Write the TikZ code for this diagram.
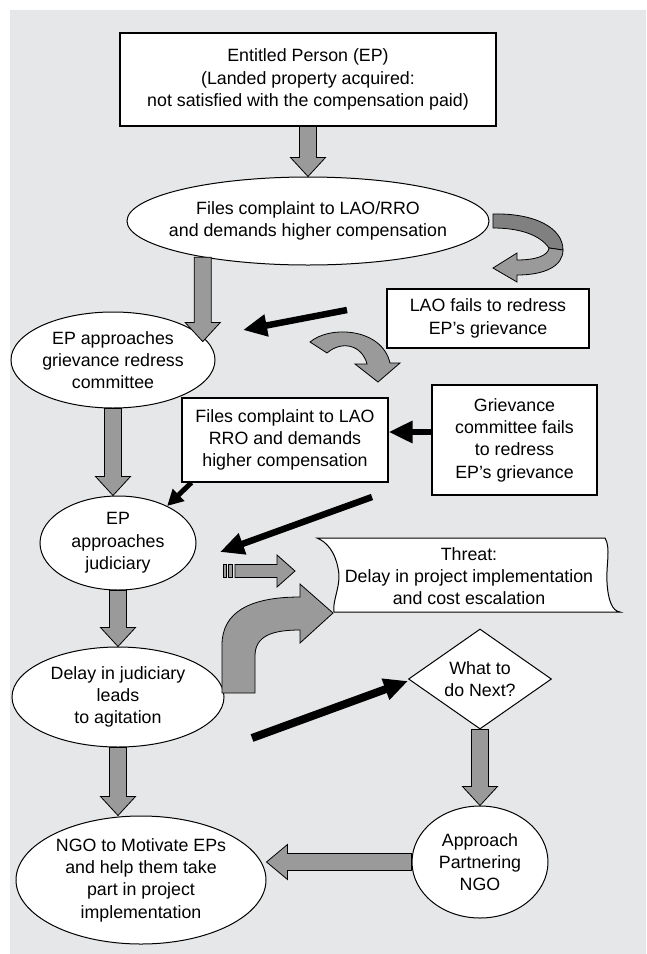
\documentclass[tikz,border=0pt]{standalone}
\usepackage{fontspec}
\setmainfont{Liberation Sans}
\usetikzlibrary{shapes.geometric,arrows.meta,calc}

\definecolor{bggrey}{HTML}{E6E7E8}
\definecolor{arrowgrey}{HTML}{9A9A9A}
\definecolor{ribbongrey}{HTML}{808080}

\tikzset{
  box/.style={draw, fill=white, line width=1.1pt, align=center, inner sep=0pt},
  oval/.style={ellipse, draw, fill=white, line width=1pt, align=center, inner sep=-40pt},
  greyblock/.style={fill=arrowgrey, draw=black, line width=0.8pt},
  blackarrow/.style={line width=6.5pt, -{Triangle[length=24pt,width=21pt]}},
}

% grey block arrows: x (or y) of the start, the other of the tip
\newcommand\greydown[2]{\draw[greyblock] let \p1=#1, \p2=#2 in
  (\x1-8.5pt,\y1) -- (\x1+8.5pt,\y1) -- (\x1+8.5pt,\y2+19pt) -- (\x1+17.5pt,\y2+19pt)
  -- (\x1,\y2) -- (\x1-17.5pt,\y2+19pt) -- (\x1-8.5pt,\y2+19pt) -- cycle;}
\newcommand\greyleft[2]{\draw[greyblock] let \p1=#1, \p2=#2 in
  (\x1,\y1+8.5pt) -- (\x1,\y1-8.5pt) -- (\x2+21pt,\y1-8.5pt) -- (\x2+21pt,\y1-17.5pt)
  -- (\x2,\y1) -- (\x2+21pt,\y1+17.5pt) -- (\x2+21pt,\y1+8.5pt) -- cycle;}
\newcommand\greyright[2]{\draw[greyblock] let \p1=#1, \p2=#2 in
  (\x1,\y1+6.5pt) -- (\x1,\y1-6.5pt) -- (\x2-18pt,\y1-6.5pt) -- (\x2-18pt,\y1-16pt)
  -- (\x2,\y1) -- (\x2-18pt,\y1+16pt) -- (\x2-18pt,\y1+6.5pt) -- cycle;}

\begin{document}
\begin{tikzpicture}[x=1pt, y=-1pt, font=\fontsize{17.8pt}{22.3pt}\selectfont]
\useasboundingbox (0,0) rectangle (646,954);
\fill[bggrey] (10,10) rectangle (646,954);

% nodes
\node[box, minimum width=376pt, minimum height=93pt] (ep) at (308,79.5)
  {Entitled Person (EP)\\(Landed property acquired:\\not satisfied with the compensation paid)};
\node[oval, minimum width=362pt, minimum height=88pt] (files) at (308,221)
  {Files complaint to LAO/RRO\\and demands higher compensation};
\node[box, minimum width=202pt, minimum height=59pt] (laofail) at (488,318.5)
  {LAO fails to redress\\EP's grievance};
\node[oval, minimum width=204pt, minimum height=96pt] (grc) at (113,360)
  {EP approaches\\grievance redress\\committee};
\node[box, minimum width=206pt, minimum height=84pt] (refile) at (285,440)
  {Files complaint to LAO\\RRO and demands\\higher compensation};
\node[box, minimum width=165pt, minimum height=110pt] (grcfail) at (514.5,440)
  {Grievance\\committee fails\\to redress\\EP's grievance};
\node[oval, minimum width=156pt, minimum height=94pt] (jud) at (118,543)
  {EP\\approaches\\judiciary};
\draw[fill=white, line width=1pt] (317,538) -- (605,538)
  .. controls (611,548) and (606,565) .. (607,582)
  .. controls (608,600) and (612,611) .. (620,612) -- (334,612)
  .. controls (332,600) and (342,585) .. (338,568)
  .. controls (335,552) and (327,542) .. (317,538) -- cycle;
\node[align=center, inner sep=0pt] (threat) at (469,576)
  {Threat:\\Delay in project implementation\\and cost escalation};
\node[oval, minimum width=212pt, minimum height=100pt] (agit) at (118,697)
  {Delay in judiciary\\leads\\to agitation};
\node[diamond, draw, fill=white, line width=1pt, align=center, aspect=1.43,
  inner sep=-20pt, minimum width=143pt, minimum height=100pt] (next) at (480,679)
  {What to\\do Next?};
\node[oval, minimum width=136pt, minimum height=112pt] (ngo) at (480,862)
  {Approach\\Partnering\\NGO};
\node[oval, minimum width=250pt, minimum height=128pt] (motiv) at (141,880)
  {NGO to Motivate EPs\\and help them take\\part in project\\implementation};

% grey block arrows
\greydown{(ep.south)}{(files.north)}
\greydown{(files.199)}{(grc.11)}
\greydown{(grc.south)}{(jud.north)}
\greydown{(jud.south)}{(agit.north)}
\greydown{(agit.south)}{(motiv.north)}
\greydown{(next.south)}{(ngo.north)}
\greyleft{(ngo.west)}{(motiv.east)}

% striped arrow to the threat
\coordinate (stail) at (235,571);
\coordinate (stip) at (295,571);
\draw[greyblock] (223,564.5) rectangle (226,577.5);
\draw[greyblock] (228,564.5) rectangle (232,577.5);
\greyright{(stail)}{(stip)}

% curved arrows
\draw[fill=ribbongrey, line width=0.8pt] (493,214) .. controls (535,213) and (563,228) .. (563,250)
  -- (549,248) .. controls (540,235) and (520,228) .. (493,228) -- cycle;
\draw[greyblock] (563,250) .. controls (563,266) and (545,275) .. (517,275) -- (517,282)
  -- (493,268) -- (517,253) -- (517,260) .. controls (535,260) and (548,256) .. (549,248) -- cycle;
\draw[greyblock] (310,342) .. controls (330,325) and (382,328) .. (390,363) -- (400,363)
  -- (378,382) -- (355,364) -- (367,364) .. controls (362,345) and (342,340) .. (327,353) -- cycle;
\draw[greyblock] (222,693) -- (222,645) .. controls (222,612) and (250,597) .. (300,597)
  -- (300,584) -- (333,613) -- (300,643) -- (300,630) .. controls (272,630) and (255,636) .. (255,656)
  -- (255,693) -- cycle;

% black arrows
\coordinate (b1tail) at (347,310);
\coordinate (b1tip) at (243,330);
\coordinate (b4tail) at (372,497);
\coordinate (b4tip) at (220,552);
\coordinate (b5tail) at (252,738);
\coordinate (b5tip) at (408,681);
\draw[blackarrow] (b1tail) -- (b1tip);
\draw[blackarrow] ([yshift=8pt]grcfail.west) -- ([yshift=8pt]refile.east);
\draw[blackarrow, line width=5pt, -{Triangle[length=16pt,width=16pt]}] ([xshift=10pt]refile.south west) -- (jud.37);
\draw[blackarrow] (b4tail) -- (b4tip);
\draw[blackarrow, line width=8pt] (b5tail) -- (b5tip);
\end{tikzpicture}
\end{document}
